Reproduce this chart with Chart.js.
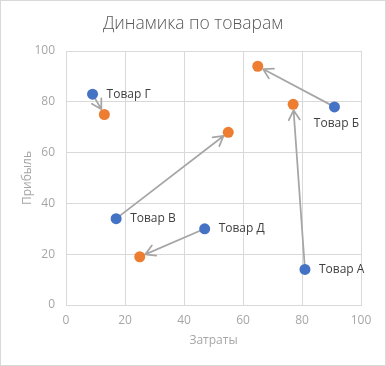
<!DOCTYPE html>
<html>
<head>
<meta charset="utf-8">
<script src="https://cdn.jsdelivr.net/npm/chart.js@4.4.0/dist/chart.umd.min.js"></script>
<style>
    html, body { margin: 0; padding: 0; background: #fff; }
    #wrap { width: 386px; height: 366px; }
</style>
</head>
<body>
<div id="wrap"><canvas id="dynChart" width="386" height="366"></canvas></div>
<script>
// data
const products = ["Товар А", "Товар Б", "Товар В", "Товар Г", "Товар Д"];
const costBefore = [81, 91, 17, 9, 47];
const profitBefore = [14, 78, 34, 83, 30];
const costAfter = [77, 65, 55, 13, 25];
const profitAfter = [79, 94, 68, 75, 19];
const axisTicks = [0, 20, 40, 60, 80, 100];

const FONT = '"Open Sans", "Noto Sans", sans-serif';
const labelBelow = ["Товар Б"];

// grey arrows from the old position to the new one
const arrowPlugin = {
    id: "arrows",
    beforeDatasetsDraw(chart) {
        const from = chart.getDatasetMeta(0).data;
        const to = chart.getDatasetMeta(1).data;
        const ctx = chart.ctx;
        ctx.save();
        ctx.strokeStyle = "#a6a6a6";
        ctx.lineWidth = 1.75;
        ctx.lineCap = "round";
        from.forEach((p, i) => {
            const q = to[i];
            const dx = q.x - p.x, dy = q.y - p.y;
            const len = Math.hypot(dx, dy);
            const ux = dx / len, uy = dy / len;
            const tx = q.x - ux * 6, ty = q.y - uy * 6;
            ctx.beginPath();
            ctx.moveTo(p.x, p.y);
            ctx.lineTo(tx, ty);
            const a = Math.atan2(-uy, -ux);
            [Math.PI / 6, -Math.PI / 6].forEach(d => {
                ctx.moveTo(tx, ty);
                ctx.lineTo(tx + Math.cos(a + d) * 11, ty + Math.sin(a + d) * 11);
            });
            ctx.stroke();
        });
        ctx.restore();
    },
    afterDatasetsDraw(chart) {
        const pts = chart.getDatasetMeta(0).data;
        const ctx = chart.ctx;
        ctx.save();
        ctx.fillStyle = "#404040";
        ctx.font = "12px " + FONT;
        pts.forEach((p, i) => {
            if (labelBelow.includes(products[i])) {
                ctx.textAlign = "center";
                ctx.textBaseline = "middle";
                ctx.fillText(products[i], p.x + 2, p.y + 17);
            } else {
                ctx.textAlign = "left";
                ctx.textBaseline = "middle";
                ctx.fillText(products[i], p.x + 14, p.y);
            }
        });
        ctx.restore();
    }
};

const framePlugin = {
    id: "frame",
    beforeDraw(chart) {
        const ctx = chart.ctx;
        ctx.save();
        ctx.fillStyle = "#fff";
        ctx.fillRect(0, 0, chart.width, chart.height);
        ctx.restore();
    },
    afterDraw(chart) {
        const ctx = chart.ctx;
        ctx.save();
        ctx.strokeStyle = "#d9d9d9";
        ctx.lineWidth = 1;
        ctx.strokeRect(0.5, 0.5, chart.width - 1, chart.height - 1);
        ctx.restore();
    }
};

function axis(titleText, extra) {
    return Object.assign({
        type: "linear",
        min: 0,
        max: 100,
        afterBuildTicks: s => { s.ticks = axisTicks.map(v => ({ value: v })); },
        grid: { color: "#d9d9d9", drawTicks: false },
        border: { color: "#d9d9d9" },
        ticks: { color: "#a6a6a6", font: { family: FONT, size: 12 } },
        title: { display: true, text: titleText, color: "#a6a6a6", font: { family: FONT, size: 12 } }
    }, extra);
}

const xScale = axis("Затраты", { position: "bottom", afterFit: s => { s.height = 61; } });
xScale.ticks.padding = 8;
xScale.title.padding = { top: 0, bottom: 18 };

// left/right padding kept equal so the title stays centred on the canvas
const yScale = axis("Прибыль", { position: "left", afterFit: s => { s.width = 41; } });
yScale.ticks.padding = 11;
yScale.title.padding = { top: -5, bottom: 0 };

new Chart(document.getElementById("dynChart"), {
    type: "scatter",
    data: {
        datasets: [
            {
                label: "Было",
                data: products.map((p, i) => ({ x: costBefore[i], y: profitBefore[i] })),
                backgroundColor: "#4472C4",
                borderWidth: 0,
                pointRadius: 5.5
            },
            {
                label: "Стало",
                data: products.map((p, i) => ({ x: costAfter[i], y: profitAfter[i] })),
                backgroundColor: "#ED7D31",
                borderWidth: 0,
                pointRadius: 5.5
            }
        ]
    },
    options: {
        responsive: false,
        animation: false,
        devicePixelRatio: 1,
        layout: { padding: { left: 25, right: 25, top: 0, bottom: 0 } },
        plugins: {
            legend: { display: false },
            tooltip: { enabled: false },
            title: {
                display: true,
                text: "Динамика по товарам",
                color: "#595959",
                font: { family: FONT, size: 17.5, weight: 300 },
                padding: { top: 14, bottom: 16 }
            }
        },
        scales: { x: xScale, y: yScale }
    },
    plugins: [arrowPlugin, framePlugin]
});
</script>
</body>
</html>
